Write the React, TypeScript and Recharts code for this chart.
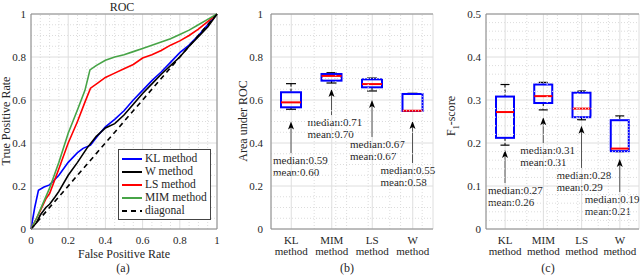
import React from "react";
import {
  Bar,
  CartesianGrid,
  ComposedChart,
  Legend,
  Line,
  LineChart,
  ReferenceLine,
  XAxis,
  YAxis,
} from "recharts";

const FONT = "'Liberation Serif', 'Times New Roman', serif";
const TEXT = "#262626";
const AXIS = "#8a8a8a";
const GRID = "#dedede";
const MINOR = "#dcdcdc";

// ROC curves: [false positive rate, true positive rate]
const klRoc = [
  [0, 0], [0.02, 0.1], [0.04, 0.18], [0.07, 0.195], [0.1, 0.205], [0.15, 0.25],
  [0.2, 0.31], [0.25, 0.355], [0.28, 0.375], [0.32, 0.39], [0.36, 0.435], [0.4, 0.475],
  [0.45, 0.51], [0.5, 0.55], [0.55, 0.6], [0.6, 0.645], [0.65, 0.69], [0.7, 0.73],
  [0.75, 0.775], [0.8, 0.82], [0.85, 0.855], [0.9, 0.9], [0.95, 0.95], [1, 1],
];
const wRoc = [
  [0, 0], [0.03, 0.03], [0.05, 0.065], [0.08, 0.1], [0.1, 0.115], [0.13, 0.15],
  [0.15, 0.175], [0.2, 0.25], [0.25, 0.31], [0.3, 0.375], [0.35, 0.43], [0.4, 0.47],
  [0.45, 0.49], [0.5, 0.53], [0.55, 0.58], [0.6, 0.63], [0.65, 0.675], [0.7, 0.72],
  [0.75, 0.76], [0.8, 0.8], [0.85, 0.85], [0.9, 0.895], [0.95, 0.94], [1, 1],
];
const lsRoc = [
  [0, 0], [0.03, 0.05], [0.05, 0.085], [0.08, 0.14], [0.1, 0.165], [0.15, 0.28],
  [0.2, 0.4], [0.25, 0.5], [0.29, 0.59], [0.32, 0.655], [0.36, 0.68], [0.4, 0.705],
  [0.45, 0.725], [0.5, 0.745], [0.55, 0.765], [0.6, 0.795], [0.65, 0.81], [0.7, 0.83],
  [0.75, 0.855], [0.8, 0.875], [0.85, 0.9], [0.9, 0.93], [0.95, 0.965], [1, 1],
];
const mimRoc = [
  [0, 0], [0.03, 0.05], [0.05, 0.09], [0.1, 0.19], [0.15, 0.31], [0.2, 0.445],
  [0.25, 0.555], [0.29, 0.645], [0.317, 0.74], [0.35, 0.76], [0.4, 0.785], [0.45, 0.8],
  [0.5, 0.81], [0.55, 0.825], [0.6, 0.84], [0.65, 0.855], [0.7, 0.87], [0.75, 0.885],
  [0.8, 0.905], [0.85, 0.925], [0.9, 0.95], [0.95, 0.975], [1, 1],
];
const diagonalRoc = [[0, 0], [1, 1]];
const rocTicks = [0, 0.2, 0.4, 0.6, 0.8, 1];

// box plots
const methods = ["KL method", "MIM method", "LS method", "W method"];

const aucLow = [0.557, 0.679, 0.642, 0.548];
const aucQ1 = [0.566, 0.69, 0.659, 0.549];
const aucMedian = [0.589, 0.712, 0.674, 0.55];
const aucQ3 = [0.636, 0.721, 0.696, 0.628];
const aucHigh = [0.676, 0.727, 0.702, 0.631];
const aucMean = [0.6, 0.7, 0.67, 0.58];
const aucTicks = [0, 0.2, 0.4, 0.6, 0.8, 1];

const f1Low = [0.195, 0.277, 0.254, 0.18];
const f1Q1 = [0.212, 0.293, 0.26, 0.181];
const f1Median = [0.272, 0.309, 0.28, 0.187];
const f1Q3 = [0.308, 0.336, 0.317, 0.253];
const f1High = [0.336, 0.341, 0.321, 0.263];
const f1Mean = [0.26, 0.31, 0.29, 0.21];
const f1Ticks = [0, 0.1, 0.2, 0.3, 0.4, 0.5];

// annotation arrows (in axis units) and label nudges (px)
const aucArrowTip = [0.5, 0.651, 0.6, 0.502];
const aucArrowTail = [0.353, 0.53, 0.428, 0.307];
const aucLabelDx = [-18, -24, -22, -32];
const f1ArrowTip = [0.184, 0.26, 0.24, 0.163];
const f1ArrowTail = [0.107, 0.2, 0.142, 0.086];
const f1LabelDx = [-17, -23, -25, -35];

const toPoints = (pts: number[][]) => pts.map(([fpr, tpr]) => ({ fpr, tpr }));

const rocSeries = [
  { name: "KL method", points: toPoints(klRoc), color: "#0000ff" },
  { name: "W method", points: toPoints(wRoc), color: "#000000" },
  { name: "LS method", points: toPoints(lsRoc), color: "#ff0000" },
  { name: "MIM method", points: toPoints(mimRoc), color: "#47a447" },
  { name: "diagonal", points: toPoints(diagonalRoc), color: "#000000", dash: "5 4" },
];

const buildRows = (
  low: number[], q1: number[], median: number[], q3: number[], high: number[], mean: number[]
) =>
  methods.map((name, i) => ({
    name, low: low[i], q1: q1[i], median: median[i], q3: q3[i], high: high[i], mean: mean[i],
  }));

const aucRows = buildRows(aucLow, aucQ1, aucMedian, aucQ3, aucHigh, aucMean);
const f1Rows = buildRows(f1Low, f1Q1, f1Median, f1Q3, f1High, f1Mean);

// minor grid positions between majors
const minorTicks = (start: number, end: number, step: number, every: number) => {
  const out: number[] = [];
  const n = Math.round((end - start) / step);
  for (let i = 0; i <= n; i++) {
    if (i % every !== 0) out.push(Math.round((start + i * step) * 1000) / 1000);
  }
  return out;
};

const NumTickX = (p: any) => (
  <text x={p.x} y={p.y + 15} textAnchor="middle" fontFamily={FONT} fontSize={11} fill={TEXT}>
    {String(p.payload.value)}
  </text>
);

const NumTickY = (p: any) => (
  <text x={p.x} y={p.y} dy="0.35em" textAnchor="end" fontFamily={FONT} fontSize={11} fill={TEXT}>
    {String(p.payload.value)}
  </text>
);

const CategoryTick = (p: any) => {
  const [a, b] = String(p.payload.value).split(" ");
  return (
    <text x={p.x} y={p.y} textAnchor="middle" fontFamily={FONT} fontSize={11} fill={TEXT}>
      <tspan x={p.x} dy={15}>{a}</tspan>
      <tspan x={p.x} dy={11}>{b}</tspan>
    </text>
  );
};

const RocLegend = () => (
  <div
    style={{
      border: "1px solid #444",
      background: "#fff",
      padding: "2px 3px",
      fontFamily: FONT,
      fontSize: 11.5,
      color: TEXT,
      lineHeight: "13px",
    }}
  >
    {rocSeries.map((s) => (
      <div key={s.name} style={{ display: "flex", alignItems: "center", height: 13, whiteSpace: "nowrap" }}>
        <svg width={20} height={8} style={{ marginRight: 3 }}>
          <line x1={0} x2={20} y1={4} y2={4} stroke={s.color} strokeWidth={2} strokeDasharray={s.dash} />
        </svg>
        <span>{s.name}</span>
      </div>
    ))}
  </div>
);

const boxShape = (tips: number[], tails: number[], dxs: number[]) => (props: any) => {
  const { x, y, width, height, payload } = props;
  const i = methods.indexOf(payload.name);
  const top = Math.min(y, y + height);
  const bottom = Math.max(y, y + height);
  const span = payload.high - payload.low;
  const k = span > 0 ? (bottom - top) / span : 0;
  const py = (v: number) => top + (payload.high - v) * k;
  const cx = x + width / 2;
  const cap = width / 4;
  const tipY = py(tips[i]);
  const tailY = py(tails[i]);
  const tx = cx + dxs[i];
  return (
    <g>
      <line x1={cx} x2={cx} y1={py(payload.high)} y2={py(payload.q3)} stroke="#000" strokeDasharray="3 2" />
      <line x1={cx} x2={cx} y1={py(payload.q1)} y2={py(payload.low)} stroke="#000" strokeDasharray="3 2" />
      <line x1={cx - cap} x2={cx + cap} y1={py(payload.high)} y2={py(payload.high)} stroke="#000" strokeWidth={1.2} />
      <line x1={cx - cap} x2={cx + cap} y1={py(payload.low)} y2={py(payload.low)} stroke="#000" strokeWidth={1.2} />
      <rect
        x={x}
        y={py(payload.q3)}
        width={width}
        height={py(payload.q1) - py(payload.q3)}
        fill="none"
        stroke="#0000ff"
        strokeWidth={2}
      />
      <line x1={x} x2={x + width} y1={py(payload.median)} y2={py(payload.median)} stroke="#ff0000" strokeWidth={2} />
      <line x1={cx} x2={cx} y1={tailY} y2={tipY + 5} stroke="#555" />
      <polygon
        points={`${cx},${tipY} ${cx - 3},${tipY + 8} ${cx},${tipY + 6} ${cx + 3},${tipY + 8}`}
        fill="#000"
      />
      <text x={tx} y={tailY + 7} dy="0.35em" fontFamily={FONT} fontSize={11} fill={TEXT}>
        {`median:${payload.median.toFixed(2)}`}
      </text>
      <text x={tx} y={tailY + 19} dy="0.35em" fontFamily={FONT} fontSize={11} fill={TEXT}>
        {`mean:${payload.mean.toFixed(2)}`}
      </text>
    </g>
  );
};

const rocMinor = minorTicks(0, 1, 0.05, 4);
const catMinor = minorTicks(0.6, 4.4, 0.2, 5).filter((v) => Math.abs(v - Math.round(v)) > 0.01);

const RocPanel = () => (
  <LineChart width={225} height={277} margin={{ top: 14, right: 8, bottom: 0, left: 0 }}>
    <CartesianGrid stroke={GRID} />
    {rocMinor.map((v) => (
      <ReferenceLine key={`mx${v}`} x={v} stroke={MINOR} strokeDasharray="1 2" />
    ))}
    {rocMinor.map((v) => (
      <ReferenceLine key={`my${v}`} y={v} stroke={MINOR} strokeDasharray="1 2" />
    ))}
    <XAxis
      dataKey="fpr"
      type="number"
      domain={[0, 1]}
      ticks={rocTicks}
      height={48}
      tickSize={0}
      tickMargin={0}
      tick={<NumTickX />}
      stroke={AXIS}
    />
    <YAxis
      type="number"
      domain={[0, 1]}
      ticks={rocTicks}
      width={31}
      tickSize={0}
      tickMargin={5}
      tick={<NumTickY />}
      stroke={AXIS}
    />
    <ReferenceLine x={1} stroke={AXIS} />
    <ReferenceLine y={1} stroke={AXIS} />
    {rocSeries.map((s) => (
      <Line
        key={s.name}
        data={s.points}
        dataKey="tpr"
        name={s.name}
        stroke={s.color}
        strokeWidth={1.6}
        strokeDasharray={s.dash}
        dot={false}
        activeDot={false}
        isAnimationActive={false}
      />
    ))}
    <Legend
      layout="vertical"
      align="center"
      verticalAlign="middle"
      wrapperStyle={{ left: 118, top: 149, width: "auto", height: "auto" }}
      content={<RocLegend />}
    />
  </LineChart>
);

const BoxPanel = ({
  rows, yTicks, yMax, yMinor, barSize, width, right, tickGap, tips, tails, dxs,
}: any) => (
  <ComposedChart width={width} height={277} data={rows} margin={{ top: 14, right, bottom: 0, left: 0 }}>
    <CartesianGrid stroke={GRID} />
    {yMinor.map((v: number) => (
      <ReferenceLine key={`my${v}`} y={v} stroke={MINOR} strokeDasharray="1 2" />
    ))}
    {catMinor.map((v) => (
      <ReferenceLine key={`mx${v}`} xAxisId="num" x={v} stroke={MINOR} strokeDasharray="1 2" />
    ))}
    <XAxis
      dataKey="name"
      type="category"
      height={48}
      tickSize={0}
      tickMargin={0}
      interval={0}
      tick={<CategoryTick />}
      stroke={AXIS}
    />
    <XAxis xAxisId="num" type="number" domain={[0.5, 4.5]} hide />
    <YAxis
      type="number"
      domain={[0, yMax]}
      ticks={yTicks}
      width={56}
      tickSize={0}
      tickMargin={tickGap}
      tick={<NumTickY />}
      stroke={AXIS}
    />
    <ReferenceLine y={yMax} stroke={AXIS} />
    <ReferenceLine xAxisId="num" x={4.5} stroke={AXIS} />
    <Bar
      dataKey={(d: any) => [d.low, d.high]}
      barSize={barSize}
      shape={boxShape(tips, tails, dxs)}
      isAnimationActive={false}
    />
  </ComposedChart>
);

const Txt = ({ x, y, rotate, children }: any) => (
  <div
    style={{
      position: "absolute",
      left: x,
      top: y,
      transform: `translate(-50%, -50%)${rotate ? " rotate(-90deg)" : ""}`,
      whiteSpace: "nowrap",
      fontSize: 12,
      lineHeight: 1,
      fontFamily: FONT,
      color: TEXT,
    }}
  >
    {children}
  </div>
);

export default function App() {
  return (
    <div style={{ position: "absolute", left: 0, top: 0, width: 640, height: 277, background: "#fff" }}>
      <div style={{ position: "absolute", left: 0, top: 0 }}>
        <RocPanel />
      </div>
      <div style={{ position: "absolute", left: 215, top: 0 }}>
        <BoxPanel
          rows={aucRows}
          yTicks={aucTicks}
          yMax={1}
          yMinor={minorTicks(0, 1, 0.05, 4)}
          barSize={20}
          width={225}
          right={7}
          tickGap={8}
          tips={aucArrowTip}
          tails={aucArrowTail}
          dxs={aucLabelDx}
        />
      </div>
      <div style={{ position: "absolute", left: 430, top: 0 }}>
        <BoxPanel
          rows={f1Rows}
          yTicks={f1Ticks}
          yMax={0.5}
          yMinor={minorTicks(0, 0.5, 0.02, 5)}
          barSize={18}
          width={212}
          right={3}
          tickGap={5}
          tips={f1ArrowTip}
          tails={f1ArrowTail}
          dxs={f1LabelDx}
        />
      </div>
      <Txt x={122} y={7}>ROC</Txt>
      <Txt x={6} y={121} rotate>True Positive Rate</Txt>
      <Txt x={124} y={254}>False Positive Rate</Txt>
      <Txt x={123} y={268}>(a)</Txt>
      <Txt x={243} y={121} rotate>Area under ROC</Txt>
      <Txt x={347} y={268}>(b)</Txt>
      <Txt x={453} y={116} rotate>
        F<sub style={{ fontSize: 8 }}>1</sub>-score
      </Txt>
      <Txt x={548} y={268}>(c)</Txt>
    </div>
  );
}
